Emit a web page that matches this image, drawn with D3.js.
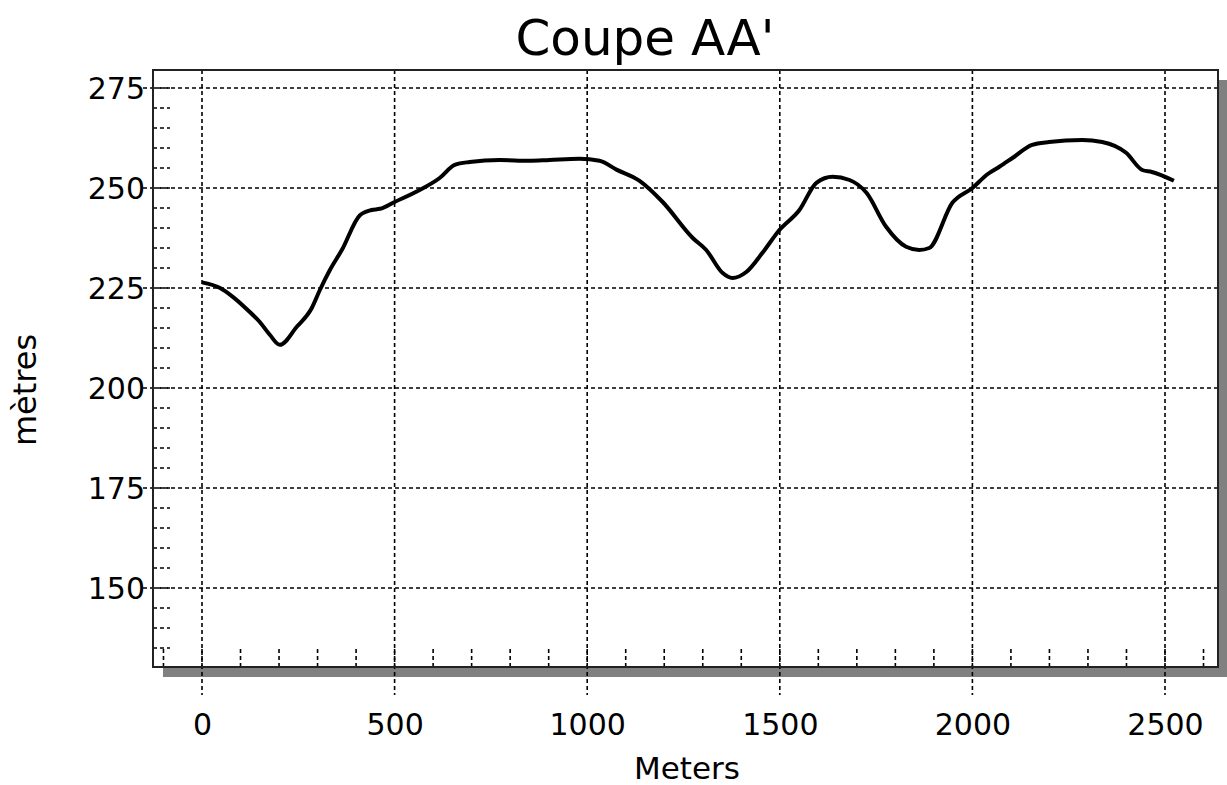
<!DOCTYPE html>
<html>
<head>
<meta charset="utf-8">
<script src="https://cdnjs.cloudflare.com/ajax/libs/d3/7.8.5/d3.min.js"></script>
<style>
  body { margin: 0; background: #fff; }
  svg { display: block; font-family: "DejaVu Sans", Verdana, sans-serif; }
  .grid { stroke: #000; stroke-width: 1.6; stroke-dasharray: 4,3; }
  .minor { stroke: #000; stroke-width: 1.6; stroke-dasharray: 4,3; }
  .line { fill: none; stroke: #000; stroke-width: 4; stroke-linejoin: round; }
</style>
</head>
<body>
<svg id="chart"></svg>
<script>
// distance along section (m) and elevation (m)
var distance = [0, 47, 80, 124, 150, 176, 202, 246, 285, 306, 332, 363, 410, 440, 462, 500, 565, 617, 656, 695, 773, 850, 902, 980, 1032, 1076, 1136, 1196, 1274, 1309, 1351, 1377, 1413, 1455, 1499, 1551, 1595, 1637, 1681, 1725, 1776, 1828, 1862, 1888, 1948, 2000, 2040, 2070, 2104, 2155, 2199, 2285, 2337, 2399, 2441, 2466, 2523];
var elevation = [226.4, 225, 222.8, 219, 216.5, 213.3, 210.8, 215.3, 220, 224.5, 229.5, 234.5, 243.2, 244.5, 244.8, 246.5, 249.5, 252.5, 255.8, 256.5, 257, 256.8, 257, 257.3, 256.8, 254.6, 251.8, 246.5, 237.5, 234.5, 228.8, 227.5, 229, 233.8, 239.5, 244.5, 251.3, 252.8, 252, 248.8, 240.3, 235.3, 234.5, 235, 246.3, 250, 253.5, 255.3, 257.5, 260.8, 261.5, 262, 261.5, 258.8, 254.5, 254, 251.8];

var xTicks = [0, 500, 1000, 1500, 2000, 2500];
var yTicks = [150, 175, 200, 225, 250, 275];
var xMinor = d3.range(-100, 2700, 100);
var yMinor = d3.range(135, 280, 5);

var width = 1227, height = 785;
var margin = {top: 70, right: 9, bottom: 118, left: 153};
var svg = d3.select("#chart").attr("width", width).attr("height", height);

var x = d3.scaleLinear().domain([-127.2, 2637.6]).range([margin.left, width - margin.right]);
var y = d3.scaleLinear().domain([130.25, 279.5]).range([height - margin.bottom, margin.top]);

var x0 = margin.left, x1 = width - margin.right, y0 = margin.top, y1 = height - margin.bottom;

// drop shadow
svg.append("rect").attr("x", x0 + 10).attr("y", y1).attr("width", x1 - x0).attr("height", 10).attr("fill", "#808080");
svg.append("rect").attr("x", x1).attr("y", y0 + 10).attr("width", 9).attr("height", y1 - y0).attr("fill", "#808080");
svg.append("rect").attr("x", x0).attr("y", y0).attr("width", x1 - x0).attr("height", y1 - y0).attr("fill", "#fff");

// minor ticks
svg.append("g").selectAll("line").data(xMinor).enter().append("line")
  .attr("class", "minor")
  .attr("x1", function(d) { return x(d); }).attr("x2", function(d) { return x(d); })
  .attr("y1", y1).attr("y2", y1 - 20);
svg.append("g").selectAll("line").data(yMinor).enter().append("line")
  .attr("class", "minor")
  .attr("y1", function(d) { return y(d); }).attr("y2", function(d) { return y(d); })
  .attr("x1", x0).attr("x2", x0 + 17);

// major grid
svg.append("g").selectAll("line").data(xTicks).enter().append("line")
  .attr("class", "grid")
  .attr("x1", function(d) { return x(d); }).attr("x2", function(d) { return x(d); })
  .attr("y1", y0).attr("y2", y1 + 28);
svg.append("g").selectAll("line").data(yTicks).enter().append("line")
  .attr("class", "grid")
  .attr("y1", function(d) { return y(d); }).attr("y2", function(d) { return y(d); })
  .attr("x1", x0 - 10).attr("x2", x1);

// frame
svg.append("rect").attr("x", x0).attr("y", y0).attr("width", x1 - x0).attr("height", y1 - y0)
  .attr("fill", "none").attr("stroke", "#222").attr("stroke-width", 2);

// axes labels
var xAxis = svg.append("g").attr("transform", "translate(0," + (y1 + 47) + ")")
  .call(d3.axisBottom(x).tickValues(xTicks).tickFormat(d3.format("d")).tickSize(0).tickPadding(0));
var yAxis = svg.append("g").attr("transform", "translate(" + (x0 - 8) + ",0)")
  .call(d3.axisLeft(y).tickValues(yTicks).tickFormat(d3.format("d")).tickSize(0).tickPadding(0));
svg.selectAll(".domain").remove();
svg.selectAll(".tick text").attr("font-size", 30).attr("font-family", "DejaVu Sans, Verdana, sans-serif").attr("fill", "#000");
yAxis.selectAll(".tick text").attr("dy", "0.36em");

// profile line
var line = d3.line()
  .x(function(d, i) { return x(distance[i]); })
  .y(function(d) { return y(d); })
  .curve(d3.curveMonotoneX);
svg.append("path").datum(elevation).attr("class", "line").attr("d", line);

// titles
svg.append("text").attr("x", 645).attr("y", 55).attr("text-anchor", "middle")
  .attr("font-size", 50).text("Coupe AA'");
svg.append("text").attr("x", 687).attr("y", 779).attr("text-anchor", "middle")
  .attr("font-size", 31).text("Meters");
svg.append("text").attr("transform", "translate(36,390) rotate(-90)").attr("text-anchor", "middle")
  .attr("font-size", 32).text("mètres");
</script>
</body>
</html>
